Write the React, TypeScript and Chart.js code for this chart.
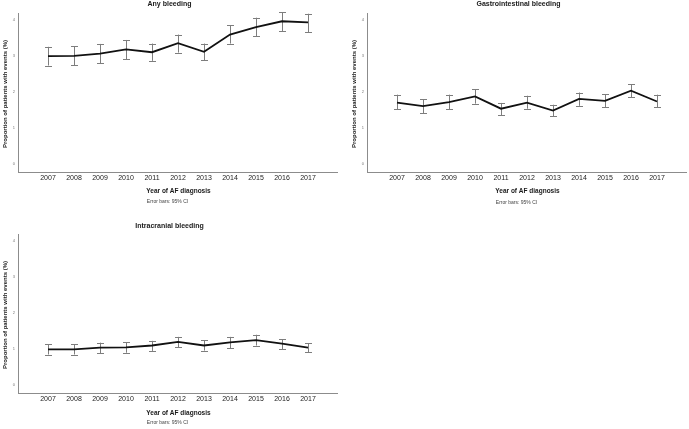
import React, { useEffect, useRef } from "react";
import { Chart, registerables } from "chart.js";

Chart.register(...registerables);

const years = [2007, 2008, 2009, 2010, 2011, 2012, 2013, 2014, 2015, 2016, 2017];
const yTickValues = [0, 1, 2, 3, 4];

const anyMean = [3.0, 3.01, 3.07, 3.19, 3.11, 3.36, 3.12, 3.6, 3.81, 3.97, 3.94];
const anyLow = [2.74, 2.75, 2.81, 2.91, 2.87, 3.1, 2.88, 3.35, 3.56, 3.7, 3.67];
const anyHigh = [3.26, 3.27, 3.34, 3.45, 3.35, 3.6, 3.35, 3.86, 4.07, 4.22, 4.18];

const giMean = [1.71, 1.61, 1.72, 1.88, 1.54, 1.71, 1.49, 1.81, 1.76, 2.04, 1.74];
const giLow = [1.53, 1.42, 1.53, 1.68, 1.36, 1.54, 1.33, 1.62, 1.58, 1.86, 1.58];
const giHigh = [1.93, 1.8, 1.93, 2.08, 1.7, 1.9, 1.65, 1.99, 1.94, 2.22, 1.93];

const icMean = [0.99, 0.99, 1.04, 1.05, 1.1, 1.2, 1.1, 1.19, 1.25, 1.15, 1.04];
const icLow = [0.85, 0.85, 0.88, 0.9, 0.95, 1.05, 0.96, 1.03, 1.1, 0.99, 0.91];
const icHigh = [1.13, 1.13, 1.18, 1.19, 1.23, 1.34, 1.25, 1.34, 1.4, 1.27, 1.17];

const FONT = "'Liberation Sans', Arial, sans-serif";
const X_MIN = 2005.846;
const X_MAX = 2018.115;
const Y_MIN = -0.22;
const Y_MAX = 4.2;

type PanelProps = {
  title: string;
  mean: number[];
  low: number[];
  high: number[];
  left: number;
  top: number;
  height: number;
  xScaleHeight: number;
  titleY: number;
  xTitleY: number;
  noteY: number;
};

function Panel(p: PanelProps) {
  const ref = useRef<HTMLCanvasElement | null>(null);
  useEffect(() => {
    if (!ref.current) return;
    const errorBars = {
      id: "errorBars",
      beforeDatasetsDraw(chart: any) {
        const ctx = chart.ctx;
        const xs = chart.scales.x;
        const ys = chart.scales.y;
        ctx.save();
        ctx.strokeStyle = "#7d7d7d";
        ctx.lineWidth = 1;
        years.forEach((yr, i) => {
          const x = Math.round(xs.getPixelForValue(yr)) + 0.5;
          const yl = ys.getPixelForValue(p.low[i]);
          const yh = ys.getPixelForValue(p.high[i]);
          ctx.beginPath();
          ctx.moveTo(x, yl);
          ctx.lineTo(x, yh);
          ctx.moveTo(x - 3.5, Math.round(yl) + 0.5);
          ctx.lineTo(x + 3.5, Math.round(yl) + 0.5);
          ctx.moveTo(x - 3.5, Math.round(yh) + 0.5);
          ctx.lineTo(x + 3.5, Math.round(yh) + 0.5);
          ctx.stroke();
        });
        ctx.restore();
      },
      afterDraw(chart: any) {
        const ctx = chart.ctx;
        const area = chart.chartArea;
        const cx = (area.left + area.right) / 2;
        ctx.save();
        ctx.textAlign = "center";
        ctx.textBaseline = "middle";
        ctx.fillStyle = "#1a1a1a";
        ctx.font = `bold 7px ${FONT}`;
        ctx.fillText(p.title, cx - 8, p.titleY);
        ctx.font = `bold 6.5px ${FONT}`;
        ctx.fillText("Year of AF diagnosis", cx + 1, p.xTitleY);
        ctx.fillStyle = "#444";
        ctx.font = `5px ${FONT}`;
        ctx.fillText("Error bars: 95% CI", cx - 10, p.noteY);
        ctx.fillStyle = "#1a1a1a";
        ctx.font = `bold 6px ${FONT}`;
        ctx.translate(5.5, 94);
        ctx.rotate(-Math.PI / 2);
        ctx.fillText("Proportion of patients with events (%)", 0, 0);
        ctx.restore();
      },
    };
    const chart = new Chart(ref.current, {
      type: "line",
      data: {
        datasets: [
          {
            data: years.map((yr, i) => ({ x: yr, y: p.mean[i] })),
            borderColor: "#111",
            borderWidth: 1.8,
            pointRadius: 0,
            fill: false,
            tension: 0,
          },
        ],
      },
      options: {
        responsive: false,
        animation: false,
        layout: { padding: { left: 0, right: 3, top: 13, bottom: 0 } },
        plugins: {
          legend: { display: false },
          tooltip: { enabled: false },
          title: { display: false },
        },
        scales: {
          x: {
            type: "linear",
            min: X_MIN,
            max: X_MAX,
            grid: { display: false, drawTicks: false },
            border: { display: true, color: "#8c8c8c", width: 1 },
            ticks: {
              font: { family: FONT, size: 7 },
              color: "#222",
              padding: 2,
              autoSkip: false,
              maxRotation: 0,
              callback: (v: any) => String(v),
            },
            afterBuildTicks: (s: any) => {
              s.ticks = years.map((v) => ({ value: v }));
            },
            afterFit: (s: any) => {
              s.height = p.xScaleHeight;
            },
          },
          y: {
            type: "linear",
            min: Y_MIN,
            max: Y_MAX,
            grid: { display: false, drawTicks: false },
            border: { display: true, color: "#8c8c8c", width: 1 },
            ticks: {
              font: { family: FONT, size: 4 },
              color: "#777",
              padding: 3,
              callback: (v: any) => String(v),
            },
            afterBuildTicks: (s: any) => {
              s.ticks = yTickValues.map((v) => ({ value: v }));
            },
            afterFit: (s: any) => {
              s.width = 18;
            },
          },
        },
      },
      plugins: [errorBars],
    } as any);
    return () => chart.destroy();
  }, []);
  return (
    <canvas
      ref={ref}
      width={340}
      height={p.height}
      style={{ position: "absolute", left: p.left, top: p.top, width: 340, height: p.height, display: "block" }}
    />
  );
}

export default function App() {
  return (
    <div style={{ position: "fixed", left: 0, top: 0, width: 689, height: 429, background: "#fff", overflow: "hidden" }}>
      <Panel title="Any bleeding" mean={anyMean} low={anyLow} high={anyHigh} left={0} top={0} height={210} xScaleHeight={38} titleY={4.5} xTitleY={191.7} noteY={202} />
      <Panel title="Gastrointestinal bleeding" mean={giMean} low={giLow} high={giHigh} left={349} top={0} height={210} xScaleHeight={38} titleY={4.5} xTitleY={191.7} noteY={202.5} />
      <Panel title="Intracranial bleeding" mean={icMean} low={icLow} high={icHigh} left={0} top={221} height={208} xScaleHeight={36} titleY={5.5} xTitleY={192.3} noteY={201.3} />
    </div>
  );
}
